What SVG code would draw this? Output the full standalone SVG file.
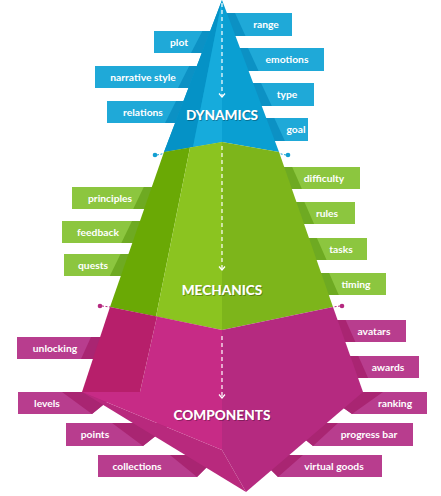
<svg xmlns="http://www.w3.org/2000/svg" width="441" height="496" viewBox="0 0 441 496">
<defs>
<style>
.lb{font-family:Lato,"Open Sans","Liberation Sans",sans-serif;font-weight:700;font-size:10.3px;fill:#fff;text-anchor:middle}
.hd{font-family:Lato,"Open Sans","Liberation Sans",sans-serif;font-weight:900;font-size:13.6px;text-anchor:middle}
.hw{fill:#fff}.hs{fill:#000;opacity:.28}
.bl{fill:#1fa9d8}.bf{fill:#0c91c4}
.gl{fill:#8cc63f}.gf{fill:#6eaa22}
.ml{fill:#b83d8e}.mf{fill:#a92572}
.dash{stroke:#fff;stroke-width:1.2;stroke-dasharray:4 3;fill:none}
.dot{stroke-width:1;stroke-dasharray:2 1.5}
</style>
<marker id="chev" viewBox="0 0 8 8" refX="4.5" refY="4" markerWidth="8" markerHeight="8" markerUnits="userSpaceOnUse" orient="auto">
<path d="M1,1 L4.5,4 L1,7" fill="none" stroke="#fff" stroke-width="1.2"/>
</marker>
</defs>
<rect width="441" height="496" fill="#fff"/>

<!-- blue labels -->
<g id="n-plot"><rect class="bl" x="154" y="31" width="62" height="22"/><polygon class="bf" points="202.4,31 212,31 204,53 191,53"/><text class="lb" x="179" y="45.5">plot</text></g>
<g id="n-narrative"><rect class="bl" x="95" y="66" width="105" height="22"/><polygon class="bf" points="189.2,66 199,66 191,88 178,88"/><text class="lb" x="143" y="80.5">narrative style</text></g>
<g id="n-relations"><rect class="bl" x="107" y="101" width="80" height="22"/><polygon class="bf" points="176.1,101 186,101 178,123 165,123"/><text class="lb" x="143" y="115.5">relations</text></g>
<g id="n-range"><rect class="bl" x="224" y="13" width="68" height="23"/><polygon class="bf" points="225,13 235,13 245.5,36 233,36"/><text class="lb" x="266" y="28">range</text></g>
<g id="n-emotions"><rect class="bl" x="237" y="48" width="87" height="23"/><polygon class="bf" points="238,48 248,48 258.6,71 246,71"/><text class="lb" x="287" y="63">emotions</text></g>
<g id="n-type"><rect class="bl" x="250" y="83" width="64" height="23"/><polygon class="bf" points="251,83 261,83 271.8,106 259,106"/><text class="lb" x="287" y="98">type</text></g>
<g id="n-goal"><rect class="bl" x="263" y="118" width="45" height="23"/><polygon class="bf" points="264,118 274.3,118 284.9,141 272,141"/><text class="lb" x="296" y="133">goal</text></g>

<!-- green labels -->
<g id="n-principles"><rect class="gl" x="72" y="187" width="83" height="22"/><polygon class="gf" points="143.8,187 154,187 146,209 133.2,209"/><text class="lb" x="110" y="201.5">principles</text></g>
<g id="n-feedback"><rect class="gl" x="62" y="221" width="81" height="22"/><polygon class="gf" points="132,221 142,221 134,243 121.3,243"/><text class="lb" x="98" y="235.5">feedback</text></g>
<g id="n-quests"><rect class="gl" x="64" y="254" width="67" height="22"/><polygon class="gf" points="120.5,254 130,254 123,276 109.8,276"/><text class="lb" x="93" y="268.5">quests</text></g>
<g id="n-difficulty"><rect class="gl" x="281" y="167" width="79" height="22"/><polygon class="gf" points="282,167 292.2,167 301.9,189 290,189"/><text class="lb" x="324" y="181.5">difficulty</text></g>
<g id="n-rules"><rect class="gl" x="293" y="202" width="62" height="22"/><polygon class="gf" points="294,202 304.4,202 314.1,224 302,224"/><text class="lb" x="327" y="216.5">rules</text></g>
<g id="n-tasks"><rect class="gl" x="306" y="238" width="61" height="22"/><polygon class="gf" points="307,238 316.9,238 326.6,260 314,260"/><text class="lb" x="341" y="252.5">tasks</text></g>
<g id="n-timing"><rect class="gl" x="318" y="273" width="68" height="22"/><polygon class="gf" points="319,273 329.1,273 338.8,295 326,295"/><text class="lb" x="356" y="287.5">timing</text></g>

<!-- magenta labels -->
<g id="n-unlocking"><rect class="ml" x="17" y="337" width="86" height="22"/><polygon class="mf" points="91,337 102,337 95,359 81,359"/><text class="lb" x="55" y="351.5">unlocking</text></g>
<g id="n-avatars"><rect class="ml" x="335" y="320" width="71" height="22"/><polygon class="mf" points="336,320 345.6,320 355.4,342 343,342"/><text class="lb" x="374" y="334.5">avatars</text></g>
<g id="n-awards"><rect class="ml" x="348" y="356" width="71" height="22"/><polygon class="mf" points="349,356 358.3,356 368.1,378 356,378"/><text class="lb" x="388" y="370.5">awards</text></g>
<g id="n-levels"><polygon class="ml" points="18,392 119,392 92,414 18,414"/><polygon class="mf" points="62,392 119,392 92,414"/><text class="lb" x="47" y="406.5">levels</text></g>
<g id="n-points"><polygon class="ml" points="66,423 172,423 143,446 66,446"/><polygon class="mf" points="112,423 172,423 143,446"/><text class="lb" x="95" y="438">points</text></g>
<g id="n-collections"><polygon class="ml" points="98,455 219,455 197,477 98,477"/><polygon class="mf" points="170,455 219,455 197,477"/><text class="lb" x="137" y="470">collections</text></g>
<g id="n-ranking"><polygon class="ml" points="427,392 321,392 352,414 427,414"/><polygon class="mf" points="383,392 321,392 352,414"/><text class="lb" x="395" y="406.5">ranking</text></g>
<g id="n-progress"><polygon class="ml" points="413,423 285,423 313,446 413,446"/><polygon class="mf" points="338,423 285,423 313,446"/><text class="lb" x="369" y="438">progress bar</text></g>
<g id="n-virtual"><polygon class="ml" points="382,455 256,455 278,477 382,477"/><polygon class="mf" points="303,455 256,455 278,477"/><text class="lb" x="334" y="470">virtual goods</text></g>

<!-- pyramid layers -->
<g id="n-dynamics">
<polygon fill="#0a9fd2" points="222,0 164,152 222,142 279,152"/>
<polygon fill="#0592c6" points="222,0 164,152 193,147"/>
<polygon fill="#16abdc" points="222,0 193,147 222,142"/>
</g>
<g id="n-mechanics">
<polygon fill="#6aa905" points="164,152 190,147.5 156,316.6 110,307"/>
<polygon fill="#8bc420" points="190,147.5 222,142 222,330 156,316.6"/>
<polygon fill="#7db51b" points="222,142 279,152 333,307 222,330"/>
</g>
<g id="n-components">
<polygon fill="#b52a80" points="222,330 333,307 363,392 246,492 222,450"/>
<polygon fill="#b8297d" points="82,392 222,450 246,492"/>
<polygon fill="#c72b86" points="157,316.6 222,330 222,450 82,392 140,392"/>
<polygon fill="#b71f6b" points="110,307 157,316.6 140,392 82,392"/>
</g>

<!-- connectors -->
<g id="connectors">
<line class="dash" x1="222" y1="3" x2="222" y2="97" marker-end="url(#chev)"/>
<line class="dash" x1="222" y1="146" x2="222" y2="270" marker-end="url(#chev)"/>
<line class="dash" x1="222" y1="336" x2="222" y2="398" marker-end="url(#chev)"/>
<line class="dot" x1="157" y1="155" x2="164" y2="153.5" stroke="#139fd2"/><circle cx="155" cy="155" r="2.3" fill="#139fd2"/>
<line class="dot" x1="286" y1="155" x2="279" y2="153.5" stroke="#139fd2"/><circle cx="288" cy="155" r="2.3" fill="#139fd2"/>
<line class="dot" x1="102" y1="306" x2="110" y2="307" stroke="#b52a80"/><circle cx="100" cy="306" r="2.3" fill="#b52a80"/>
<line class="dot" x1="340" y1="306" x2="333" y2="307" stroke="#b52a80"/><circle cx="342" cy="306" r="2.3" fill="#b52a80"/>
</g>

<!-- headings -->
<g id="headings">
<text class="hd hs" x="222.8" y="121">DYNAMICS</text><text class="hd hw" x="222" y="120">DYNAMICS</text>
<text class="hd hs" x="222.8" y="296">MECHANICS</text><text class="hd hw" x="222" y="295">MECHANICS</text>
<text class="hd hs" x="222.8" y="421">COMPONENTS</text><text class="hd hw" x="222" y="420">COMPONENTS</text>
</g>
</svg>
